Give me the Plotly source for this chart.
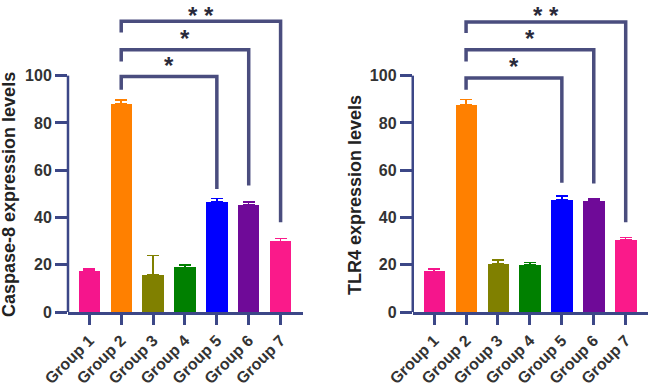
import plotly.graph_objects as go

groups = ["Group 1", "Group 2", "Group 3", "Group 4", "Group 5", "Group 6", "Group 7"]
colors = ["#f5158c", "#ff8000", "#808000", "#008000", "#0000ff", "#6f0a98", "#fa1a8a"]

casp8_mean = [17.5, 88.0, 15.8, 18.9, 46.7, 45.4, 29.9]
casp8_err = [0.6, 1.8, 8.1, 0.9, 1.4, 1.1, 1.1]
tlr4_mean = [17.2, 87.5, 20.3, 20.0, 47.5, 46.9, 30.6]
tlr4_err = [0.9, 2.4, 1.7, 0.9, 1.5, 1.0, 1.0]

# comparisons: (from index, to index, label)
comparisons = [(1, 4, "*"), (1, 5, "*"), (1, 6, "* *")]

panels = [
    dict(mean=casp8_mean, err=casp8_err, title="Caspase-8 expression levels",
         xa="x", ya="y", dom=[0.1046, 0.466], title_x=9,
         levels=[99.6, 110.9, 123.0], left_end=[94, 106, 118.2], right_end=[52, 53.5, 38]),
    dict(mean=tlr4_mean, err=tlr4_err, title="TLR4 expression levels",
         xa="x2", ya="y2", dom=[0.635, 0.997], title_x=355,
         levels=[99.0, 110.9, 122.7], left_end=[94, 106, 118], right_end=[54.7, 54.4, 38]),
]

AX = "#3c4787"
BR = "#4a4d7e"
TXT = "#333333"
FONT = "Liberation Sans, Arial, sans-serif"

fig = go.Figure()
shapes = []
annotations = []
xs = list(range(len(groups)))

for i, p in enumerate(panels):
    for j in xs:
        fig.add_trace(go.Bar(
            x=[j], y=[p["mean"][j]], width=0.67, marker=dict(color=colors[j], line=dict(width=0)),
            error_y=dict(type="data", array=[p["err"][j]], arrayminus=[0], symmetric=False,
                         thickness=1.5, width=6, color=colors[j]),
            xaxis=p["xa"], yaxis=p["ya"], showlegend=False, hoverinfo="skip"))
    sfx = "" if i == 0 else "2"
    fig.update_layout(**{
        "xaxis" + sfx: dict(domain=p["dom"], range=[-0.67, 6.7], anchor="y" + sfx,
                            tickvals=xs, ticktext=groups, tickangle=-45, automargin=False,
                            showline=True, linecolor=AX, linewidth=2.5,
                            ticks="outside", ticklen=10, tickwidth=2.5, tickcolor=AX,
                            tickfont=dict(family=FONT, size=16, color=TXT, weight="bold"),
                            showgrid=False, zeroline=False, fixedrange=True),
        "yaxis" + sfx: dict(domain=[0, 1], range=[0, 132], anchor="x" + sfx, automargin=False,
                            tickvals=[0, 20, 40, 60, 80, 100],
                            showline=False, ticks="outside", ticklen=12, tickwidth=2.5, tickcolor=AX,
                            tickfont=dict(family=FONT, size=16, color=TXT, weight="bold"),
                            showgrid=False, zeroline=False, fixedrange=True),
    })
    # y axis line from 0 to 100
    shapes.append(dict(type="line", xref=p["xa"] + " domain", yref=p["ya"], x0=0, x1=0, y0=0, y1=100,
                       line=dict(color=AX, width=2.5)))
    n = len(comparisons)
    for k, ((a, b, lab), lev, le, re) in enumerate(zip(comparisons, p["levels"], p["left_end"], p["right_end"])):
        shapes.append(dict(type="path", xref=p["xa"], yref=p["ya"],
                           path=f"M {a},{le} L {a},{lev} L {b},{lev} L {b},{re}",
                           line=dict(color=BR, width=3.5)))
        afont = dict(family=FONT, size=24, color="#2a2a3a", weight="bold")
        if k == n - 1:
            annotations.append(dict(x=(a + b) / 2, y=1, xref=p["xa"], yref="paper", text=lab,
                                    showarrow=False, yanchor="top", font=afont))
        else:
            annotations.append(dict(x=(a + b) / 2, y=lev, xref=p["xa"], yref=p["ya"], text=lab,
                                    showarrow=False, yanchor="middle", yshift=11.5, font=afont))
    annotations.append(dict(x=p["title_x"] / 650, y=(312 - 195) / 312, xref="paper", yref="paper",
                            text=p["title"], textangle=-90, showarrow=False,
                            xanchor="center", yanchor="middle",
                            font=dict(family=FONT, size=18, color="#222222", weight="bold")))

fig.update_layout(template="none", width=650, height=386, margin=dict(l=0, r=0, t=0, b=74, pad=0),
                  paper_bgcolor="white", plot_bgcolor="white", barmode="overlay",
                  shapes=shapes, annotations=annotations, bargap=0)
fig.write_html("out.html", config={"displayModeBar": False},
               post_script="document.body.style.margin='0';document.body.style.overflow='hidden';")
